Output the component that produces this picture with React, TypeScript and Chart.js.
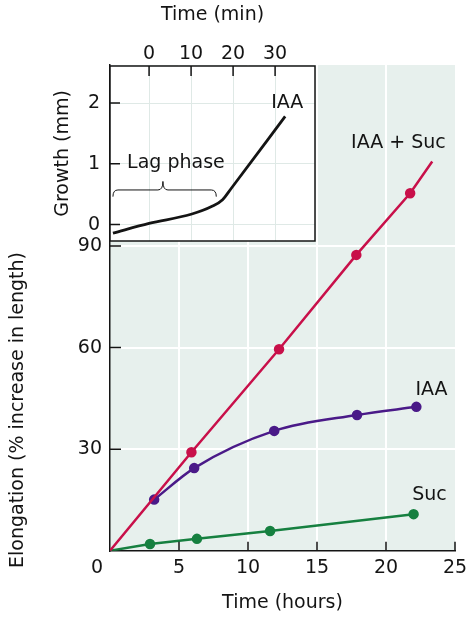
import React, { useEffect, useRef } from "react";
import { Chart, registerables } from "chart.js";
Chart.register(...registerables);

const FONT = "'DejaVu Sans', 'Open Sans', sans-serif";
const FS = 19;

// ---- main chart data ----
const iaaSucHours = [0, 5.9, 12.25, 17.85, 21.75, 23.35];
const iaaSucElong = [0, 29.1, 59.5, 87.4, 105.6, 115];
const iaaSucMarker = [0, 1, 1, 1, 1, 0];
const iaaHours = [3.2, 6.1, 11.9, 17.9, 22.2];
const iaaElong = [15.1, 24.4, 35.4, 40.1, 42.5];
const sucHours = [0, 2.9, 6.3, 11.6, 22.0];
const sucElong = [0, 2.0, 3.5, 5.8, 10.8];
const sucMarker = [0, 1, 1, 1, 1];
const hourTicks = [5, 10, 15, 20, 25];
const elongTicks = [30, 60, 90];
const seriesNames = ["IAA + Suc", "IAA", "Suc"];
const seriesLabelHours = [20.9, 23.3, 23.15];
const seriesLabelElong = [120.5, 47.5, 16.5];

// ---- inset data ----
const insetMinutes = [-8.6, 0, 10, 15, 17.5, 19.5, 32.4];
const insetGrowth = [-0.14, 0.02, 0.17, 0.3, 0.41, 0.59, 1.78];
const minuteTicks = [0, 10, 20, 30];
const growthTicks = [0, 1, 2];

const RED = "#c8104a";
const PURPLE = "#4a1a88";
const GREEN = "#168040";
const BG = "#e7f0ed";
const INK = "#141414";

const pts = (xs: number[], ys: number[]) => xs.map((x, i) => ({ x, y: ys[i] }));
const noPad = (s: any) => {
  s.paddingLeft = 0;
  s.paddingRight = 0;
  s.paddingTop = 0;
  s.paddingBottom = 0;
};

export default function App() {
  const mainRef = useRef<HTMLCanvasElement>(null);
  const insetRef = useRef<HTMLCanvasElement>(null);

  useEffect(() => {
    const mainPlugin = {
      id: "mainDeco",
      beforeDraw(chart: any) {
        const { ctx, chartArea: a } = chart;
        ctx.save();
        ctx.fillStyle = BG;
        ctx.fillRect(a.left, a.top, a.right - a.left, a.bottom - a.top);
        ctx.restore();
      },
      afterDraw(chart: any) {
        const { ctx, chartArea: a, scales } = chart;
        const xs = scales.x, ys = scales.y;
        ctx.save();
        ctx.strokeStyle = INK;
        ctx.lineWidth = 1.5;
        ctx.beginPath();
        hourTicks.forEach((v) => {
          const px = xs.getPixelForValue(v);
          ctx.moveTo(px, a.bottom);
          ctx.lineTo(px, a.bottom - 9);
        });
        elongTicks.forEach((v) => {
          const py = ys.getPixelForValue(v);
          ctx.moveTo(a.left, py);
          ctx.lineTo(a.left + 11, py);
        });
        ctx.stroke();
        ctx.fillStyle = INK;
        ctx.font = `${FS}px ${FONT}`;
        ctx.textAlign = "center";
        ctx.textBaseline = "middle";
        ctx.fillText("0", a.left - 13, a.bottom + 17);
        seriesNames.forEach((s, i) => {
          ctx.fillText(s, xs.getPixelForValue(seriesLabelHours[i]), ys.getPixelForValue(seriesLabelElong[i]));
        });
        ctx.translate(18, 410);
        ctx.rotate(-Math.PI / 2);
        ctx.fillText("Elongation (% increase in length)", 0, 0);
        ctx.restore();
      },
    };

    const main = new Chart(mainRef.current!, {
      type: "scatter",
      data: {
        datasets: [
          {
            data: pts(iaaSucHours, iaaSucElong),
            showLine: true,
            borderColor: RED,
            backgroundColor: RED,
            borderWidth: 2.5,
            pointRadius: iaaSucMarker.map((m) => (m ? 4 : 0)),
            tension: 0,
          },
          {
            data: pts(sucHours, sucElong),
            showLine: true,
            borderColor: GREEN,
            backgroundColor: GREEN,
            borderWidth: 2.5,
            pointRadius: sucMarker.map((m) => (m ? 4 : 0)),
            tension: 0,
          },
          {
            data: pts(iaaHours, iaaElong),
            showLine: true,
            borderColor: PURPLE,
            backgroundColor: PURPLE,
            borderWidth: 2.5,
            pointRadius: 4,
            cubicInterpolationMode: "monotone",
          },
        ],
      },
      options: {
        responsive: false,
        animation: false,
        layout: { padding: { top: 65, right: 11, left: 0, bottom: 0 } },
        plugins: { legend: { display: false }, tooltip: { enabled: false } },
        scales: {
          x: {
            type: "linear",
            min: 0,
            max: 25,
            afterBuildTicks: (s: any) => { s.ticks = hourTicks.map((value) => ({ value })); },
            afterFit: (s: any) => { s.height = 66.3; noPad(s); },
            ticks: { font: { family: FONT, size: FS }, color: INK, padding: 6 },
            grid: {
              color: (c: any) => (c.tick && c.tick.value > 0 && c.tick.value < 25 ? "#ffffff" : "rgba(0,0,0,0)"),
              lineWidth: 2,
              drawTicks: false,
            },
            border: { color: INK, width: 1.5 },
            title: { display: true, text: "Time (hours)", font: { family: FONT, size: FS }, color: INK, padding: { top: 0, bottom: 3 } },
          },
          y: {
            type: "linear",
            min: 0,
            max: 143.5,
            afterBuildTicks: (s: any) => { s.ticks = elongTicks.map((value) => ({ value })); },
            afterFit: (s: any) => { s.width = 110; noPad(s); },
            ticks: { font: { family: FONT, size: FS }, color: INK, padding: 8 },
            grid: { color: "#ffffff", lineWidth: 2, drawTicks: false },
            border: { color: INK, width: 1.5 },
          },
        },
      },
      plugins: [mainPlugin],
    } as any);

    const insetPlugin = {
      id: "insetDeco",
      beforeDraw(chart: any) {
        const { ctx, chartArea: a } = chart;
        ctx.save();
        ctx.fillStyle = "#ffffff";
        ctx.fillRect(a.left, a.top, a.right - a.left, a.bottom - a.top);
        ctx.restore();
      },
      afterDraw(chart: any) {
        const { ctx, chartArea: a, scales } = chart;
        const xs = scales.x, ys = scales.y;
        ctx.save();
        ctx.strokeStyle = INK;
        ctx.lineWidth = 1.5;
        ctx.strokeRect(a.left, a.top, a.right - a.left, a.bottom - a.top);
        ctx.beginPath();
        minuteTicks.forEach((v) => {
          const px = xs.getPixelForValue(v);
          ctx.moveTo(px, a.top);
          ctx.lineTo(px, a.top + 10);
        });
        growthTicks.forEach((v) => {
          const py = ys.getPixelForValue(v);
          ctx.moveTo(a.left, py);
          ctx.lineTo(a.left + 10, py);
        });
        ctx.stroke();
        // brace for lag phase
        const x0 = xs.getPixelForValue(-8.6);
        const x1 = xs.getPixelForValue(16);
        const xm = xs.getPixelForValue(3.3);
        const yEnd = ys.getPixelForValue(0.46);
        const yMid = ys.getPixelForValue(0.57);
        const yTip = ys.getPixelForValue(0.71);
        const r = 5;
        ctx.lineWidth = 1;
        ctx.beginPath();
        ctx.moveTo(x0, yEnd);
        ctx.quadraticCurveTo(x0, yMid, x0 + r, yMid);
        ctx.lineTo(xm - r, yMid);
        ctx.quadraticCurveTo(xm, yMid, xm, yTip);
        ctx.quadraticCurveTo(xm, yMid, xm + r, yMid);
        ctx.lineTo(x1 - r, yMid);
        ctx.quadraticCurveTo(x1, yMid, x1, yEnd);
        ctx.stroke();
        ctx.fillStyle = INK;
        ctx.font = `${FS}px ${FONT}`;
        ctx.textAlign = "center";
        ctx.textBaseline = "middle";
        ctx.fillText("Lag phase", xs.getPixelForValue(6.4), ys.getPixelForValue(1.02));
        ctx.fillText("IAA", xs.getPixelForValue(32.9), ys.getPixelForValue(2.0));
        ctx.restore();
      },
    };

    const inset = new Chart(insetRef.current!, {
      type: "scatter",
      data: {
        datasets: [
          {
            data: pts(insetMinutes, insetGrowth),
            showLine: true,
            borderColor: INK,
            borderWidth: 2.8,
            pointRadius: 0,
            cubicInterpolationMode: "monotone",
          },
        ],
      },
      options: {
        responsive: false,
        animation: false,
        layout: { padding: { top: 0, right: 15, left: 0, bottom: 9 } },
        plugins: { legend: { display: false }, tooltip: { enabled: false } },
        scales: {
          x: {
            type: "linear",
            position: "top",
            min: -9.3,
            max: 39.5,
            afterBuildTicks: (s: any) => { s.ticks = minuteTicks.map((value) => ({ value })); },
            afterFit: (s: any) => { s.height = 66; noPad(s); },
            ticks: { font: { family: FONT, size: FS }, color: INK, padding: 1 },
            grid: { color: "#dfe9e6", lineWidth: 1, drawTicks: false },
            border: { display: false },
            title: { display: true, text: "Time (min)", font: { family: FONT, size: FS }, color: INK, padding: { top: 4, bottom: 0 } },
          },
          y: {
            type: "linear",
            min: -0.27,
            max: 2.61,
            afterBuildTicks: (s: any) => { s.ticks = growthTicks.map((value) => ({ value })); },
            afterFit: (s: any) => { s.width = 70; noPad(s); },
            ticks: { font: { family: FONT, size: FS }, color: INK, padding: 10 },
            grid: { color: "#dfe9e6", lineWidth: 1, drawTicks: false },
            border: { display: false },
            title: { display: true, text: "Growth (mm)", font: { family: FONT, size: FS }, color: INK, padding: { top: 12, bottom: 0 } },
          },
        },
      },
      plugins: [insetPlugin],
    } as any);

    return () => {
      main.destroy();
      inset.destroy();
    };
  }, []);

  return (
    <div style={{ position: "absolute", left: 0, top: 0, width: 466, height: 617, background: "#fff" }}>
      <canvas ref={mainRef} width={466} height={617} style={{ position: "absolute", left: 0, top: 0 }} />
      <canvas ref={insetRef} width={290} height={250} style={{ position: "absolute", left: 40, top: 0 }} />
    </div>
  );
}
